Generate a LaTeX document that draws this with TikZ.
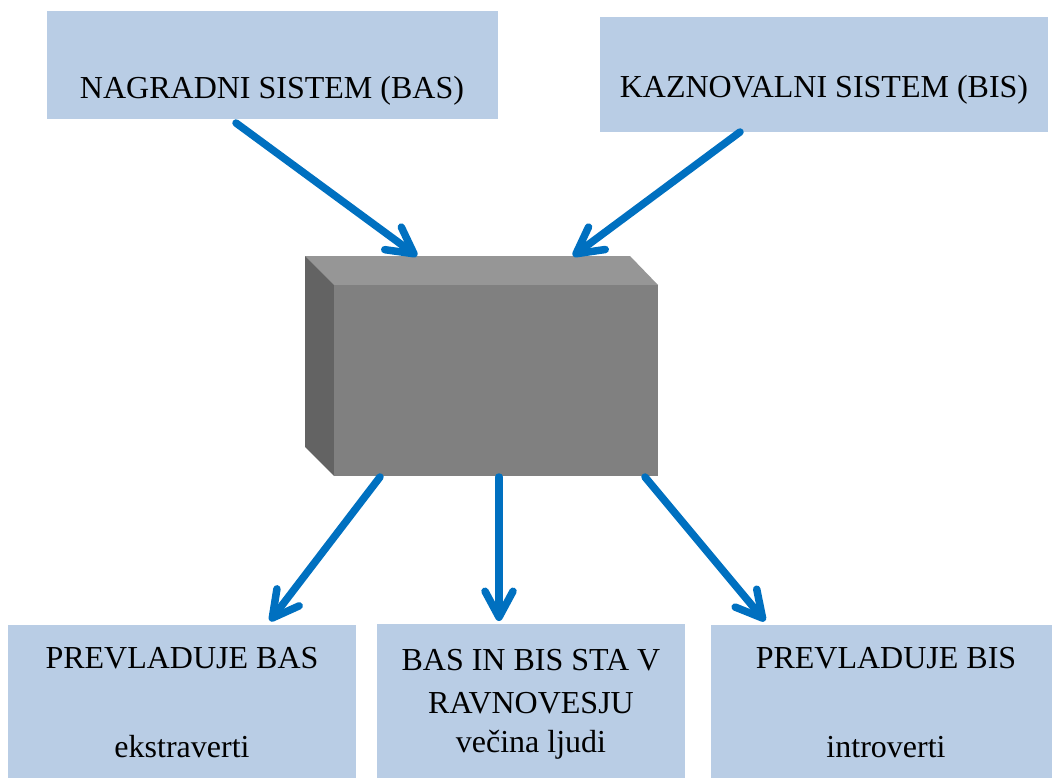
\documentclass[tikz,border=0pt]{standalone}
\usepackage{fontspec}
\setmainfont{Liberation Serif}
\usetikzlibrary{arrows.meta}
\definecolor{boxblue}{HTML}{B9CDE5}
\definecolor{arrowblue}{HTML}{0070C0}
\definecolor{cubetop}{HTML}{969696}
\definecolor{cubefront}{HTML}{808080}
\definecolor{cubeside}{HTML}{636363}
\begin{document}
\begin{tikzpicture}[x=1pt,y=-1pt,
  panel/.style={fill=boxblue, draw=none, inner sep=0pt, anchor=north west},
  txt/.style={anchor=base, inner sep=0pt, font=\fontsize{32}{42}\selectfont},
  link/.style={draw=arrowblue, line width=7.5pt, line cap=round,
    -{Straight Barb[length=26pt,width=28pt,round]}}]
\useasboundingbox (0,0) rectangle (1054,778);

% top panels
\node[panel, minimum width=451pt, minimum height=108pt] (bas) at (47,11) {};
\node[panel, minimum width=448pt, minimum height=115pt] (bis) at (600,17) {};
\node[txt] (tbas) at (272,99) {NAGRADNI SISTEM (BAS)};
\node[txt] (tbis) at (824,98) {KAZNOVALNI SISTEM (BIS)};

% bottom panels
\node[panel, minimum width=348pt, minimum height=153pt] (left) at (8,625) {};
\node[panel, minimum width=308pt, minimum height=154pt] (mid) at (377,624) {};
\node[panel, minimum width=341pt, minimum height=153pt] (right) at (711,625) {};
\node[txt] (l1) at (182,668) {PREVLADUJE BAS};
\node[txt] (l2) at (182,757) {ekstraverti};
\node[txt] (m1) at (531,670) {BAS IN BIS STA V};
\node[txt] (m2) at (531,713) {RAVNOVESJU};
\node[txt] (m3) at (531,752) {večina ljudi};
\node[txt] (r1) at (886,668) {PREVLADUJE BIS};
\node[txt] (r2) at (886,757) {introverti};

% 3D block
\fill[cubetop] (305,256) -- (630,256) -- (658,285) -- (334,285) -- cycle;
\fill[cubeside] (305,256) -- (334,285) -- (334,476) -- (305,447) -- cycle;
\node[fill=cubefront, draw=none, inner sep=0pt, anchor=north west,
  minimum width=324pt, minimum height=191pt] (core) at (334,285) {};

% connector ends
\coordinate (s1) at (236,123);
\coordinate (e1) at (417,256);
\coordinate (s2) at (740,132);
\coordinate (e2) at (573,256);
\coordinate (s3) at (380,477);
\coordinate (e3) at (270,621);
\coordinate (s4) at (499,477);
\coordinate (e4) at (499,621);
\coordinate (s5) at (645,477);
\coordinate (e5) at (765,621);

\draw[link] (s1) -- (e1);
\draw[link] (s2) -- (e2);
\draw[link] (s3) -- (e3);
\draw[link] (s4) -- (e4);
\draw[link] (s5) -- (e5);
\end{tikzpicture}
\end{document}
